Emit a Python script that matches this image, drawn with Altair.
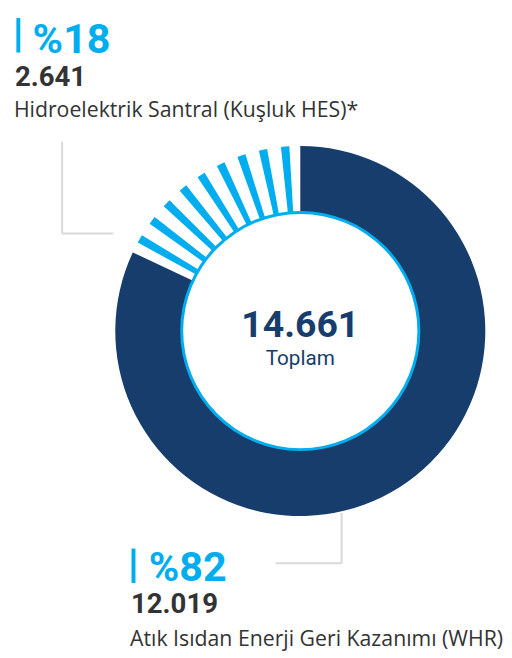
import math
import altair as alt
import pandas as pd

# ---- data ----
categories = ["Hidroelektrik Santral (Kuşluk HES)*", "Atık Isıdan Enerji Geri Kazanımı (WHR)"]
values = [2641, 12019]
pct_labels = ["%18", "%82"]
value_labels = ["2.641", "12.019"]
total_label = "14.661"
total_caption = "Toplam"

NAVY = "#173D6C"
BLUE = "#00AEEF"
DARK = "#333333"
GRAY = "#D9D9D9"
FONT = "Roboto"
FONT2 = "Open Sans"

total = sum(values)
hes, whr = values
N_STRIPES = 9

# center of the donut (chart coordinates)
CX, CY = 297, 323
R_OUT, R_IN = 188, 121

theta_scale = alt.Scale(domain=[0, total], range=[0, 2 * math.pi])

# navy segment (WHR) from 0 clockwise
navy_df = pd.DataFrame({"start": [0], "end": [whr]})
navy = alt.Chart(navy_df).mark_arc(radius=R_OUT, radius2=R_IN, color=NAVY).encode(
    theta=alt.Theta("start:Q", scale=theta_scale),
    theta2="end:Q",
    x=alt.value(CX), y=alt.value(CY),
)

# striped segment (HES) split into stripes
deg = total / 360.0
edge = 4.7 * deg           # centre of first stripe from segment edge
half_w = 1.3 * deg         # half stripe width
span = hes - 2 * edge
rows = []
for i in range(N_STRIPES):
    c = whr + edge + span * i / (N_STRIPES - 1)
    rows.append({"start": c - half_w, "end": c + half_w})
stripe_df = pd.DataFrame(rows)
stripes = alt.Chart(stripe_df).mark_arc(radius=R_OUT, radius2=R_IN, color=BLUE).encode(
    theta=alt.Theta("start:Q", scale=theta_scale),
    theta2="end:Q",
    x=alt.value(CX), y=alt.value(CY),
)

ring_df = pd.DataFrame({"start": [0], "end": [total]})
ring = alt.Chart(ring_df).mark_arc(radius=R_IN + 1, radius2=R_IN - 2, color=BLUE).encode(
    theta=alt.Theta("start:Q", scale=theta_scale),
    theta2="end:Q",
    x=alt.value(CX), y=alt.value(CY),
)

one = pd.DataFrame({"a": [0]})


def txt(t, x, y, size, color, weight="normal", align="left", font=FONT):
    return alt.Chart(one).mark_text(
        font=font, fontSize=size, color=color, fontWeight=weight,
        align=align, baseline="alphabetic"
    ).encode(x=alt.value(x), y=alt.value(y), text=alt.value(t))


def rule(x1, y1, x2, y2, color, w):
    return alt.Chart(one).mark_rule(color=color, strokeWidth=w).encode(
        x=alt.value(x1), y=alt.value(y1), x2=alt.value(x2), y2=alt.value(y2)
    )


o = 8  # page margin offset
layers = [
    navy, stripes, ring,
    # leader lines
    rule(63 - o, 139 - o, 63 - o, 232 - o, GRAY, 2),
    rule(63 - o, 232 - o, 115 - o, 232 - o, GRAY, 2),
    rule(347 - o, 516 - o, 347 - o, 567 - o, GRAY, 2),
    rule(280 - o, 567 - o, 347 - o, 567 - o, GRAY, 2),
    # accent bars
    rule(18.5 - o, 13 - o, 18.5 - o, 48 - o, BLUE, 4),
    rule(135.5 - o, 552 - o, 135.5 - o, 587 - o, BLUE, 4),
    # top label
    txt(pct_labels[0], 33 - o, 48 - o, 42, BLUE, "bold"),
    txt(value_labels[0], 15 - o, 82 - o, 28, DARK, "bold"),
    txt(categories[0], 14 - o, 114 - o, 21.6, DARK, font=FONT2),
    # bottom label
    txt(pct_labels[1], 151 - o, 585 - o, 42, BLUE, "bold"),
    txt(value_labels[1], 133 - o, 618 - o, 28, DARK, "bold"),
    txt(categories[1], 132 - o, 651 - o, 21.6, DARK, font=FONT2),
    # centre
    txt(total_label, 305 - o, 337 - o, 38, NAVY, "bold", "center"),
    txt(total_caption, 305 - o, 366 - o, 21, NAVY, "normal", "center"),
]

chart = alt.layer(*layers).properties(
    width=504, height=650,
    autosize=alt.AutoSizeParams(type="none"),
    padding=0,
).configure_view(stroke=None)

chart.save("out.html", embed_options={"renderer": "svg", "actions": False})
